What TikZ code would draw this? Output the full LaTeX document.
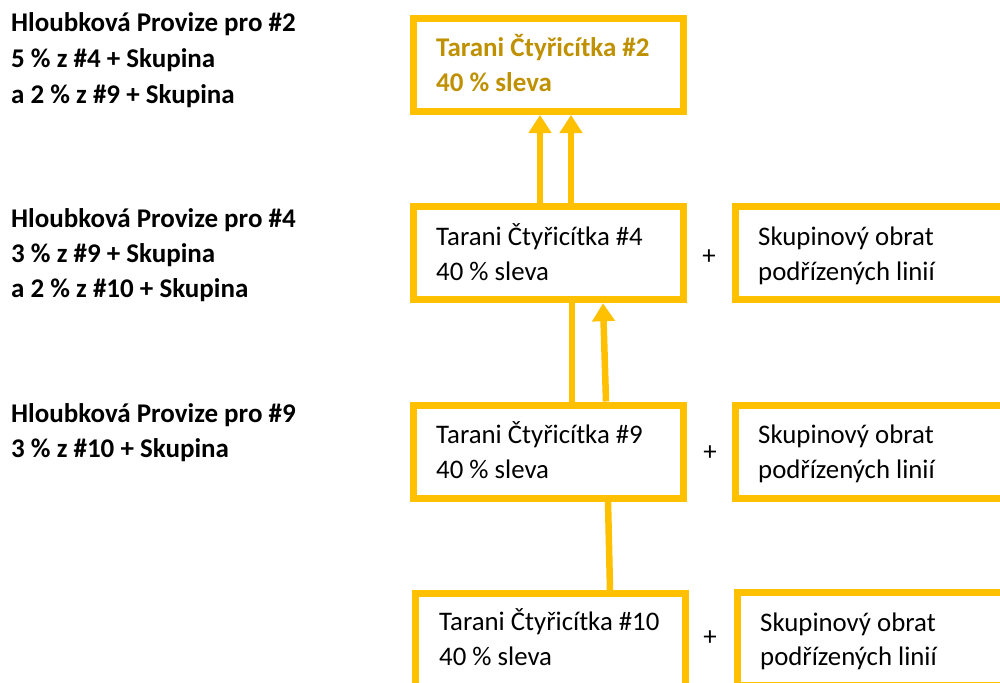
\documentclass[tikz,border=0pt]{standalone}
\usepackage{fontspec}
\setmainfont{Carlito}
\usetikzlibrary{arrows.meta}
\definecolor{gold}{HTML}{FFC000}
\definecolor{darkgold}{HTML}{BF9000}
\tikzset{
  box/.style={draw=gold, line width=7pt, rectangle, inner sep=0pt, minimum height=93pt},
  mid/.style={box, minimum width=270pt},
  side/.style={box, minimum width=300pt},
  txt/.style={anchor=base west, inner sep=0pt, font=\fontsize{26.8}{32}\selectfont},
  btxt/.style={txt, font=\fontsize{27}{32}\selectfont\bfseries},
  plus/.style={inner sep=0pt, font=\fontsize{26.8}{32}\selectfont},
  link/.style={draw=gold, line width=6.5pt},
  arr/.style={link, -{Triangle[width=22pt,length=18pt]}}
}
\begin{document}
\begin{tikzpicture}[x=1pt,y=-1pt]
\useasboundingbox (0,0) rectangle (1000,682);
\clip (0,0) rectangle (1000,682);
% boxes
\node[mid] (b2) at (548.5,65) {};
\node[mid] (b4) at (548.5,253.25) {};
\node[mid] (b9) at (548.5,451.5) {};
\node[mid] (b10) at (550.5,640) {};
\node[side] (s4) at (885.5,253.25) {};
\node[side] (s9) at (885.5,451.5) {};
\node[side] (s10) at (887,639) {};
% box texts
\node[btxt, text=darkgold] (t2a) at (436,57) {Tarani Čtyřicítka \#2};
\node[btxt, text=darkgold] (t2b) at (436,92) {40 \% sleva};
\node[txt] (t4a) at (436,245) {Tarani Čtyřicítka \#4};
\node[txt] (t4b) at (436,280) {40 \% sleva};
\node[txt] (t9a) at (436,443) {Tarani Čtyřicítka \#9};
\node[txt] (t9b) at (436,478) {40 \% sleva};
\node[txt] (t10a) at (439,630) {Tarani Čtyřicítka \#10};
\node[txt] (t10b) at (439,665) {40 \% sleva};
\node[txt] (s4a) at (758,245) {Skupinový obrat};
\node[txt] (s4b) at (758,280) {podřízených linií};
\node[txt] (s9a) at (758,443) {Skupinový obrat};
\node[txt] (s9b) at (758,478) {podřízených linií};
\node[txt] (s10a) at (760,631) {Skupinový obrat};
\node[txt] (s10b) at (760,665) {podřízených linií};
% plus signs
\node[plus] (p4) at (709,257) {+};
\node[plus] (p9) at (710,453) {+};
\node[plus] (p10) at (710,638) {+};
% left texts
\node[btxt] (h2a) at (11,32) {Hloubková Provize pro \#2};
\node[btxt] (h2b) at (11,68) {5 \% z \#4 + Skupina};
\node[btxt] (h2c) at (11,103) {a 2 \% z \#9 + Skupina};
\node[btxt] (h4a) at (11,227) {Hloubková Provize pro \#4};
\node[btxt] (h4b) at (11,262) {3 \% z \#9 + Skupina};
\node[btxt] (h4c) at (11,297) {a 2 \% z \#10 + Skupina};
\node[btxt] (h9a) at (11,422) {Hloubková Provize pro \#9};
\node[btxt] (h9b) at (11,457) {3 \% z \#10 + Skupina};
% connectors
\coordinate (x1) at (540,0);
\coordinate (x2) at (571,0);
\coordinate (x3) at (572,0);
\coordinate (x4t) at (603,0);
\coordinate (x4b) at (606,0);
\coordinate (x5t) at (608,0);
\coordinate (x5b) at (610,0);
\draw[arr] (x1 |- b4.north) -- (x1 |- b2.south);
\draw[arr] (x2 |- b4.north) -- (x2 |- b2.south);
\draw[link] (x3 |- b9.north) -- (x3 |- b4.south);
\draw[arr] (x4b |- b9.north) -- (x4t |- b4.south);
\draw[link] (x5b |- b10.north) -- (x5t |- b9.south);
\end{tikzpicture}
\end{document}
